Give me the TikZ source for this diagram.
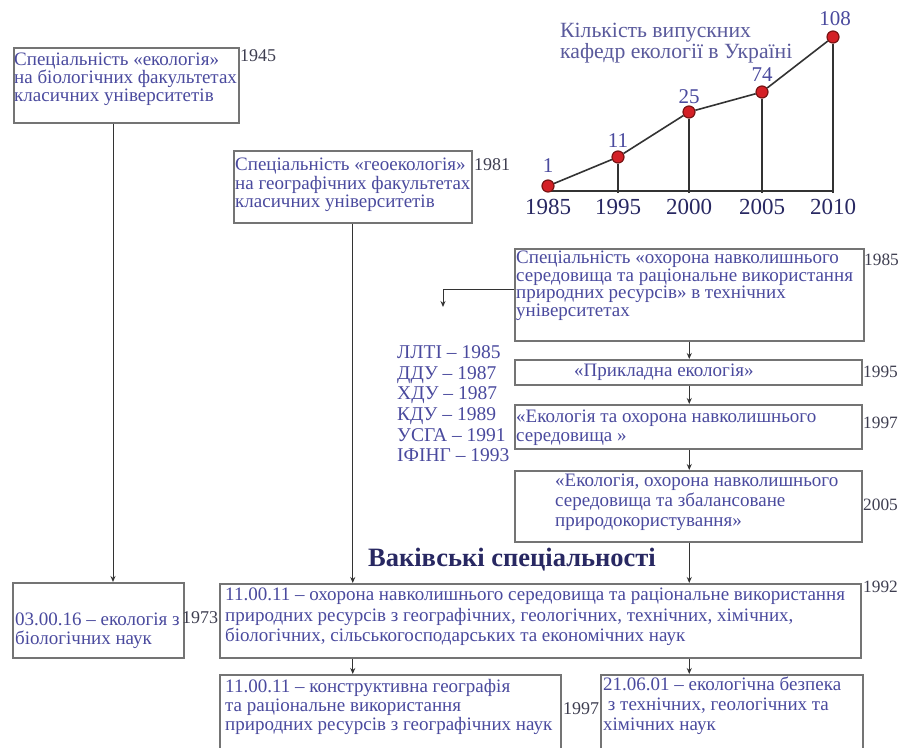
\documentclass[tikz,border=0pt]{standalone}
\usepackage{fontspec}
\setmainfont{Liberation Serif}
\usetikzlibrary{arrows.meta,calc}
\definecolor{txtblue}{HTML}{4A4A9E}
\definecolor{yrgray}{HTML}{3E3E50}
\definecolor{boxgray}{HTML}{747474}
\definecolor{lineg}{HTML}{333333}
\definecolor{navy}{HTML}{282862}
\definecolor{ttl}{HTML}{5A5A9C}
\definecolor{dotred}{HTML}{D42026}
\definecolor{dotdark}{HTML}{7A1414}
\begin{document}
\begin{tikzpicture}[x=1pt,y=-1pt,
 boxn/.style={draw=boxgray, line width=1.5pt, anchor=north west, inner sep=0pt},
 txt/.style={anchor=north west, inner sep=0pt, align=left, text=txtblue},
 yr/.style={anchor=west, inner sep=0pt, text=yrgray, font=\fontsize{18}{18}\selectfont},
 yrr/.style={yr, font=\fontsize{17.3}{17.3}\selectfont},
 conn/.style={draw=lineg, line width=1pt},
 arr/.style={conn, -{Stealth[length=6pt,width=5pt]}},
 dot/.style={circle, fill=dotred, draw=dotdark, line width=1.2pt, minimum size=12pt, inner sep=0pt},
 cy/.style={text=navy, font=\fontsize{23}{23}\selectfont},
 cv/.style={text=txtblue, font=\fontsize{21}{21}\selectfont},
]
\useasboundingbox[fill=white] (0,0) rectangle (899,747);

% boxes
\node[boxn, minimum width=225pt, minimum height=75pt] (b1) at (13,47) {};
\node[boxn, minimum width=238pt, minimum height=72pt] (b2) at (233,150) {};
\node[boxn, minimum width=349pt, minimum height=92pt] (b3) at (514,248) {};
\node[boxn, minimum width=347pt, minimum height=25pt] (b4) at (514,359) {};
\node[boxn, minimum width=347pt, minimum height=44pt] (b5) at (514,404) {};
\node[boxn, minimum width=347pt, minimum height=71pt] (b6) at (514,470) {};
\node[boxn, minimum width=171pt, minimum height=75pt] (b7) at (12,582) {};
\node[boxn, minimum width=641pt, minimum height=74pt] (b8) at (219,583) {};
\node[boxn, minimum width=341pt, minimum height=90pt] (b9) at (219,674) {};
\node[boxn, minimum width=262pt, minimum height=90pt] (b10) at (600,674) {};

% box texts
\node[txt, font=\fontsize{19}{17.8}\selectfont] (t1) at (14,53)
 {Спеціальність «екологія»\\на біологічних факультетах\\класичних університетів};
\node[txt, font=\fontsize{19}{18.5}\selectfont] (t2) at (235,158)
 {Спеціальність «геоекологія»\\на географічних факультетах\\класичних університетів};
\node[txt, font=\fontsize{19}{17.6}\selectfont] (t3) at (516,251)
 {Спеціальність «охорона навколишнього\\середовища та раціональне використання\\природних ресурсів» в технічних\\університетах};
\node[txt, font=\fontsize{19}{19}\selectfont] (t4) at (574,364) {«Прикладна екологія»};
\node[txt, font=\fontsize{19}{19}\selectfont] (t5) at (516,410)
 {«Екологія та охорона навколишнього\\середовища »};
\node[txt, font=\fontsize{19}{20}\selectfont] (t6) at (555,474)
 {«Екологія, охорона навколишнього\\середовища та збалансоване\\природокористування»};
\node[txt, font=\fontsize{19}{18.2}\selectfont] (t7) at (15,613)
 {03.00.16 – екологія з\\біологічних наук};
\node[txt, font=\fontsize{19}{20.5}\selectfont] (t8) at (225,588)
 {11.00.11 – охорона навколишнього середовища та раціональне використання\\природних ресурсів з географічних, геологічних, технічних, хімічних,\\біологічних, сільськогосподарських та економічних наук};
\node[txt, font=\fontsize{19}{19}\selectfont] (t9) at (225,679)
 {11.00.11 – конструктивна географія\\та раціональне використання\\природних ресурсів з географічних наук};
\node[txt, font=\fontsize{19}{20}\selectfont] (t10) at (603,677)
 {21.06.01 – екологічна безпека\\\ з технічних, геологічних та\\хімічних наук};

% year labels
\node[yr] (y1945) at (240,55.5) {1945};
\node[yr] (y1981) at (474,165) {1981};
\node[yrr] (y1985) at (864,260) {1985};
\node[yrr] (y1995) at (863,372) {1995};
\node[yrr] (y1997a) at (863,423) {1997};
\node[yrr] (y2005) at (863,505) {2005};
\node[yrr] (y1992) at (863,587) {1992};
\node[yr] (y1973) at (182,618) {1973};
\node[yr] (y1997b) at (563,709) {1997};

% list
\node[txt, font=\fontsize{19.5}{20.6}\selectfont] (lst) at (397,345.5)
 {ЛЛТІ – 1985\\ДДУ – 1987\\ХДУ – 1987\\КДУ – 1989\\УСГА – 1991\\ІФІНГ – 1993};

% title
\node[text=navy, font=\fontsize{26.5}{26.5}\selectfont\bfseries, inner sep=0pt] (vak) at (512,560) {Ваківські спеціальності};

% connectors
\coordinate (c1) at (113,0);
\coordinate (lend) at (443,307);
\draw[arr] (b1.south -| c1) -- (b7.north -| c1);
\draw[arr] (b2.south) -- (b8.north -| b2.south);
\draw[arr] ($(b3.north west)!0.445!(b3.south west)$) -| (lend);
\draw[arr] (b3.south) -- (b4.north -| b3.south);
\draw[arr] (b4.south -| b3.south) -- (b5.north -| b3.south);
\draw[arr] (b5.south -| b3.south) -- (b6.north -| b3.south);
\draw[arr] (b6.south -| b3.south) -- (b8.north -| b3.south);
\draw[arr] (b8.south -| b2.south) -- (b9.north -| b2.south);
\draw[arr] (b8.south -| b3.south) -- (b10.north -| b3.south);

% chart
\node[txt, text=ttl, font=\fontsize{21.7}{21}\selectfont] (ctitle) at (560,23)
 {Кількість випускних\\кафедр екології в Україні};
\coordinate (q1) at (548,191);
\coordinate (q2) at (618,193);
\coordinate (q3) at (689,193);
\coordinate (q4) at (762,193);
\coordinate (q5) at (833,193);
\draw[lineg, line width=1.6pt] (q1) -- (q5 |- q1);
\node[dot] (p1) at (548,186) {};
\node[dot] (p2) at (618,157) {};
\node[dot] (p3) at (689,112) {};
\node[dot] (p4) at (762,92) {};
\node[dot] (p5) at (833,37) {};
\draw[lineg, line width=1.3pt] (p2) -- (q2);
\draw[lineg, line width=1.3pt] (p3) -- (q3);
\draw[lineg, line width=1.3pt] (p4) -- (q4);
\draw[lineg, line width=1.3pt] (p5) -- (q5);
\draw[lineg, line width=1.6pt] (p1) -- (p2) -- (p3) -- (p4) -- (p5);
\node[cy] (x1) at (548,207) {1985};
\node[cy] (x2) at (618,207) {1995};
\node[cy] (x3) at (689,207) {2000};
\node[cy] (x4) at (762,207) {2005};
\node[cy] (x5) at (833,207) {2010};
\node[cv] (v1) at (548,166) {1};
\node[cv] (v2) at (618,141) {11};
\node[cv] (v3) at (689,97) {25};
\node[cv] (v4) at (762,75) {74};
\node[cv] (v5) at (835,19) {108};
\end{tikzpicture}
\end{document}
